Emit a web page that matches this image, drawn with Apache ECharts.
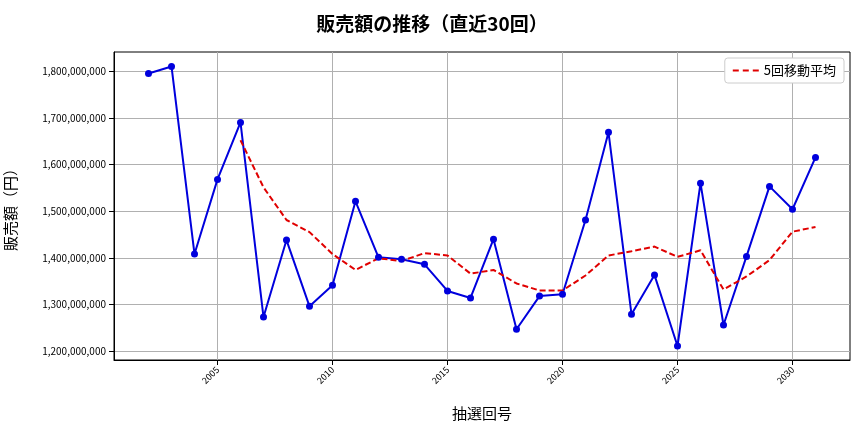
<!DOCTYPE html><html><head><meta charset="utf-8"><script src="https://cdn.jsdelivr.net/npm/echarts@6/dist/echarts.min.js"></script></head><body style="margin:0"><div id="c" style="width:864px;height:432px"></div><script>
const years=[2002,2003,2004,2005,2006,2007,2008,2009,2010,2011,2012,2013,2014,2015,2016,2017,2018,2019,2020,2021,2022,2023,2024,2025,2026,2027,2028,2029,2030,2031];
const sales=[1795,1810,1408,1568,1690,1273,1438,1296,1341,1521,1401,1397,1386,1329,1314,1440,1247,1318,1322,1481,1669,1279,1363,1211,1560,1256,1403,1553,1504,1615];
const maYears=years.slice(4);
const ma=[1652,1551,1481,1455,1408,1374,1399,1393,1410,1405,1366,1374,1345,1330,1330,1362,1405,1414,1424,1402,1416,1332,1360,1395,1456,1466];
const yTicks=[1200,1300,1400,1500,1600,1700,1800].map(v=>v*1e6);
const xTicks=[2005,2010,2015,2020,2025,2030];
const F='"Noto Sans CJK JP",sans-serif';
const ch=echarts.init(document.getElementById('c'));
ch.setOption({animation:false,
title:{text:'販売額の推移（直近30回）',left:'center',top:9,textStyle:{fontFamily:F,fontSize:19,fontWeight:'bold',color:'#000'}},
legend:{right:20,top:58,orient:'vertical',backgroundColor:'#fff',borderColor:'#ccc',borderWidth:1,borderRadius:3,padding:[6,8],itemWidth:26,textStyle:{fontFamily:F,fontSize:13,color:'#000'},data:[{name:'5回移動平均',icon:'path://M0,0H6V2H0Z M10,0H16V2H10Z M20,0H26V2H20Z'}]},
grid:{left:114,right:14,top:52,bottom:72,containLabel:false,outerBoundsMode:'none',show:true,borderColor:'#000',borderWidth:1},
xAxis:{type:'value',min:2000.5,max:2032.5,name:'抽選回号',nameLocation:'middle',nameGap:46,nameTextStyle:{fontFamily:F,fontSize:15,color:'#000'},
axisLine:{onZero:false,lineStyle:{color:'#000'}},axisTick:{customValues:xTicks,lineStyle:{color:'#000'}},axisLabel:{customValues:xTicks,rotate:45,fontSize:9,color:'#000',fontFamily:F,formatter:v=>String(v)},splitLine:{show:true,lineStyle:{color:'#b0b0b0'}}},
yAxis:{type:'value',min:1181e6,max:1841e6,name:'販売額（円）',nameLocation:'middle',nameGap:96,nameTextStyle:{fontFamily:F,fontSize:15,color:'#000'},
axisLine:{show:true,lineStyle:{color:'#000'}},axisTick:{show:true,customValues:yTicks,lineStyle:{color:'#000'}},axisLabel:{customValues:yTicks,fontSize:10,color:'#000',fontFamily:F,formatter:v=>Math.round(v).toLocaleString('en-US')},splitLine:{show:true,lineStyle:{color:'#b0b0b0'}}},
series:[
{name:'販売額',type:'line',data:years.map((y,i)=>[y,sales[i]*1e6]),symbol:'circle',symbolSize:7,lineStyle:{color:'#0000dd',width:2},itemStyle:{color:'#0000dd'}},
{name:'5回移動平均',type:'line',data:maYears.map((y,i)=>[y,ma[i]*1e6]),symbol:'none',lineStyle:{color:'#e00000',width:2,type:[6,3]},itemStyle:{color:'#e00000'}}
]});
</script></body></html>
